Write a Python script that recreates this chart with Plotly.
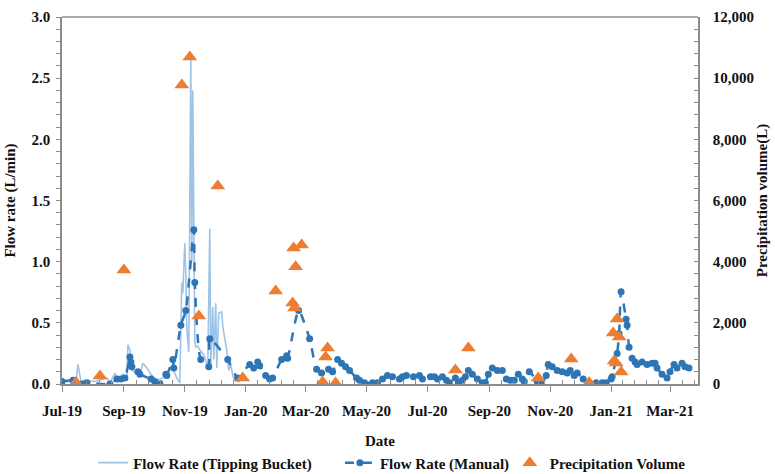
import plotly.graph_objects as go
import pandas as pd

# ---------------- data ----------------
tb_dates = ["2019-07-01","2019-07-15","2019-07-17","2019-07-20","2019-07-24","2019-08-03","2019-08-15",
            "2019-08-18","2019-08-23","2019-08-26","2019-08-31","2019-09-04","2019-09-05","2019-09-07",
            "2019-09-09","2019-09-12","2019-09-17","2019-09-20","2019-09-24","2019-09-29","2019-10-04",
            "2019-10-10","2019-10-15","2019-10-19","2019-10-24","2019-10-27","2019-10-29","2019-10-30",
            "2019-11-01","2019-11-02","2019-11-03","2019-11-05","2019-11-07","2019-11-08","2019-11-09",
            "2019-11-10","2019-11-11","2019-11-12","2019-11-14","2019-11-16","2019-11-19","2019-11-21",
            "2019-11-24","2019-11-26","2019-11-27","2019-11-29","2019-11-30","2019-12-02","2019-12-03",
            "2019-12-05","2019-12-08","2019-12-09","2019-12-13","2019-12-15","2019-12-17","2019-12-19",
            "2019-12-21","2019-12-26"]
tb_flow = [0.02,0.02,0.16,0.02,0.03,0.02,0.05,
           0.01,0.09,0.03,0.08,0.03,0.32,0.28,
           0.11,0.10,0.08,0.17,0.13,0.07,0.03,
           0.05,0.10,0.14,0.05,0.01,0.83,0.74,
           1.15,0.91,0.45,0.26,2.67,1.00,2.40,
           1.50,0.35,0.30,0.31,0.28,0.25,0.22,
           0.13,1.27,0.16,0.63,0.20,0.66,0.13,
           0.58,0.59,0.47,0.28,0.11,0.16,0.07,
           0.03,0.02]

man_dates = ["2019-07-01","2019-07-12","2019-07-14","2019-07-21","2019-07-26","2019-08-18","2019-08-25",
             "2019-08-29","2019-09-02","2019-09-07","2019-09-08","2019-09-09","2019-09-15","2019-09-17",
             "2019-09-28","2019-10-02","2019-10-07","2019-10-13","2019-10-14","2019-10-20","2019-10-21",
             "2019-10-28","2019-11-02","2019-11-10","2019-11-11","2019-11-17","2019-11-25","2019-11-26",
             "2019-12-14","2019-12-24","2020-01-05","2020-01-09","2020-01-13","2020-01-15","2020-01-21",
             "2020-01-25","2020-01-28","2020-02-06","2020-02-11","2020-02-12","2020-02-23","2020-03-05",
             "2020-03-12","2020-03-17","2020-03-24","2020-03-28","2020-04-02","2020-04-06","2020-04-10",
             "2020-04-14","2020-04-21","2020-04-24","2020-04-29","2020-05-07","2020-05-12","2020-05-17",
             "2020-05-22","2020-05-27","2020-06-03","2020-06-06","2020-06-10","2020-06-17","2020-06-23",
             "2020-06-26","2020-07-04","2020-07-08","2020-07-11","2020-07-16","2020-07-20","2020-07-23",
             "2020-07-29","2020-08-01","2020-08-05","2020-08-08","2020-08-11","2020-08-15","2020-08-20",
             "2020-08-25","2020-08-28","2020-08-31","2020-09-04","2020-09-09","2020-09-14","2020-09-18",
             "2020-09-22","2020-09-26","2020-09-30","2020-10-04","2020-10-06","2020-10-11","2020-10-19",
             "2020-10-23","2020-10-28","2020-10-30","2020-11-03","2020-11-08","2020-11-13","2020-11-18",
             "2020-11-21","2020-11-25","2020-11-28","2020-12-04","2020-12-10","2020-12-17","2020-12-23",
             "2020-12-27","2021-01-01","2021-01-02","2021-01-07","2021-01-09","2021-01-11","2021-01-16",
             "2021-01-17","2021-01-19","2021-01-22","2021-01-25","2021-01-27","2021-02-01","2021-02-06",
             "2021-02-11","2021-02-14","2021-02-16","2021-02-21","2021-02-26","2021-03-01","2021-03-05",
             "2021-03-08","2021-03-13","2021-03-16","2021-03-20"]
man_flow = [0.02,0.03,0.01,0.00,0.01,0.00,0.04,
            0.04,0.05,0.22,0.18,0.14,0.10,0.08,
            0.04,0.02,0.00,0.08,0.07,0.20,0.13,
            0.48,0.60,1.26,0.83,0.20,0.14,0.37,
            0.20,0.05,0.16,0.13,0.18,0.15,0.07,
            0.04,0.05,0.20,0.23,0.21,0.60,0.37,
            0.12,0.09,0.12,0.10,0.20,0.17,0.14,
            0.11,0.05,0.03,0.01,0.01,0.01,0.04,
            0.07,0.06,0.04,0.06,0.07,0.06,0.07,
            0.04,0.06,0.06,0.04,0.06,0.03,0.01,
            0.05,0.01,0.03,0.06,0.11,0.08,0.04,
            0.01,0.01,0.08,0.13,0.11,0.11,0.04,
            0.03,0.03,0.08,0.04,0.02,0.10,0.02,
            0.00,0.07,0.16,0.14,0.11,0.10,0.09,
            0.11,0.07,0.09,0.04,0.01,0.01,0.01,
            0.01,0.04,0.06,0.25,0.41,0.755,0.53,
            0.48,0.30,0.21,0.18,0.16,0.18,0.16,
            0.17,0.17,0.13,0.08,0.05,0.10,0.16,
            0.13,0.17,0.14,0.13]

pr_dates = ["2019-07-15","2019-08-08","2019-09-01","2019-10-29","2019-11-06","2019-11-15","2019-12-04",
            "2019-12-29","2020-01-31","2020-02-17","2020-02-18","2020-02-19","2020-02-20","2020-02-26",
            "2020-03-18","2020-03-21","2020-03-23","2020-03-31","2020-07-29","2020-08-11","2020-10-20",
            "2020-11-22","2020-12-10","2021-01-03","2021-01-04","2021-01-06","2021-01-07","2021-01-09",
            "2021-01-11"]
pr_vol = [50,260,3730,9780,10690,2220,6475,
          200,3040,2650,4450,2485,3830,4545,
          65,880,1180,30,460,1180,200,
          820,40,1670,750,690,2125,1540,
          390]

x_tick_vals = ["2019-07-01","2019-09-01","2019-11-01","2020-01-01","2020-03-01","2020-05-01",
               "2020-07-01","2020-09-01","2020-11-01","2021-01-01","2021-03-01"]
x_tick_text = ["Jul-19","Sep-19","Nov-19","Jan-20","Mar-20","May-20",
               "Jul-20","Sep-20","Nov-20","Jan-21","Mar-21"]

# ---------------- styling ----------------
FONT = "Liberation Serif"
AX = "#8c8c8c"
C_TB = "#9dc3e6"
C_MAN = "#2e75b6"
C_PR = "#ed7d31"

# minor tick positions on date axis (5 per major interval)
mt = pd.to_datetime(x_tick_vals + ["2021-05-01"])
minor_vals = []
for a, b in zip(mt[:-1], mt[1:]):
    for k in range(1, 5):
        minor_vals.append(a + (b - a) * k / 5)

fig = go.Figure()
fig.add_trace(go.Scatter(x=tb_dates, y=tb_flow, mode="lines", name="Flow Rate (Tipping Bucket)",
                         line=dict(color=C_TB, width=1.6), yaxis="y", legend="legend"))
fig.add_trace(go.Scatter(x=man_dates, y=man_flow, mode="lines+markers", name="Flow Rate (Manual)",
                         line=dict(color=C_MAN, width=2.5, dash="dash", shape="spline", smoothing=0.6),
                         marker=dict(color=C_MAN, size=7, symbol="circle"), yaxis="y", legend="legend2"))
fig.add_trace(go.Scatter(x=pr_dates, y=pr_vol, mode="markers", name="Precipitation Volume",
                         marker=dict(color=C_PR, size=13, symbol="triangle-up"), yaxis="y2",
                         legend="legend3"))

LEG = dict(orientation="h", xanchor="left", y=-0.215, yanchor="middle",
           font=dict(family=FONT, size=15, color="#111111", weight="bold"),
           bgcolor="rgba(0,0,0,0)", borderwidth=0)

fig.update_layout(
    width=775, height=474,
    margin=dict(l=62, r=77, t=17, b=90, autoexpand=False),
    paper_bgcolor="white", plot_bgcolor="white",
    font=dict(family=FONT, size=15, color="#111111", weight="bold"),
    showlegend=True,
    legend=dict(LEG, x=0.049),
    legend2=dict(LEG, x=0.437),
    legend3=dict(LEG, x=0.704),
    xaxis=dict(type="date", range=["2019-07-01", "2021-03-29"], automargin=False,
               tickmode="array", tickvals=x_tick_vals, ticktext=x_tick_text,
               ticks="outside", ticklen=6, tickcolor=AX, tickwidth=1, ticklabelstandoff=6,
               showline=True, linecolor=AX, linewidth=1.5, mirror=False,
               showgrid=False, zeroline=False,
               tickfont=dict(family=FONT, size=15, weight="bold"),
               title=dict(text="Date", font=dict(family=FONT, size=15, weight="bold"), standoff=18),
               minor=dict(tickmode="array", tickvals=minor_vals, ticks="inside", ticklen=4,
                          tickcolor=AX, showgrid=False)),
    yaxis=dict(range=[0, 3.0], dtick=0.5, tick0=0, tickformat=".1f", automargin=False,
               ticks="outside", ticklen=4, tickcolor=AX, ticklabelstandoff=3,
               showline=True, linecolor=AX, linewidth=1.5, showgrid=False, zeroline=False,
               tickfont=dict(family=FONT, size=15, weight="bold"),
               title=dict(text="Flow rate (L/min)", font=dict(family=FONT, size=15, weight="bold"),
                          standoff=12),
               minor=dict(dtick=0.1, ticks="outside", ticklen=4, tickcolor=AX, showgrid=False)),
    yaxis2=dict(range=[0, 12000], dtick=2000, tick0=0, tickformat=",d", overlaying="y", side="right",
                automargin=False,
                ticks="inside", ticklen=4, tickcolor=AX, ticklabelstandoff=10,
                showline=True, linecolor=AX, linewidth=1.5, showgrid=False, zeroline=False,
                tickfont=dict(family=FONT, size=15, weight="bold"),
                title=dict(text="Precipitation volume(L)", font=dict(family=FONT, size=15, weight="bold"),
                           standoff=3),
                minor=dict(dtick=400, ticks="inside", ticklen=4, tickcolor=AX, showgrid=False)),
)

# top border of plot area
fig.add_shape(type="line", xref="paper", yref="paper", x0=0, x1=1, y0=1, y1=1,
              line=dict(color=AX, width=1.5))

fig.write_html("out.html", config={"displayModeBar": False},
               post_script="document.body.style.margin='0px';")
